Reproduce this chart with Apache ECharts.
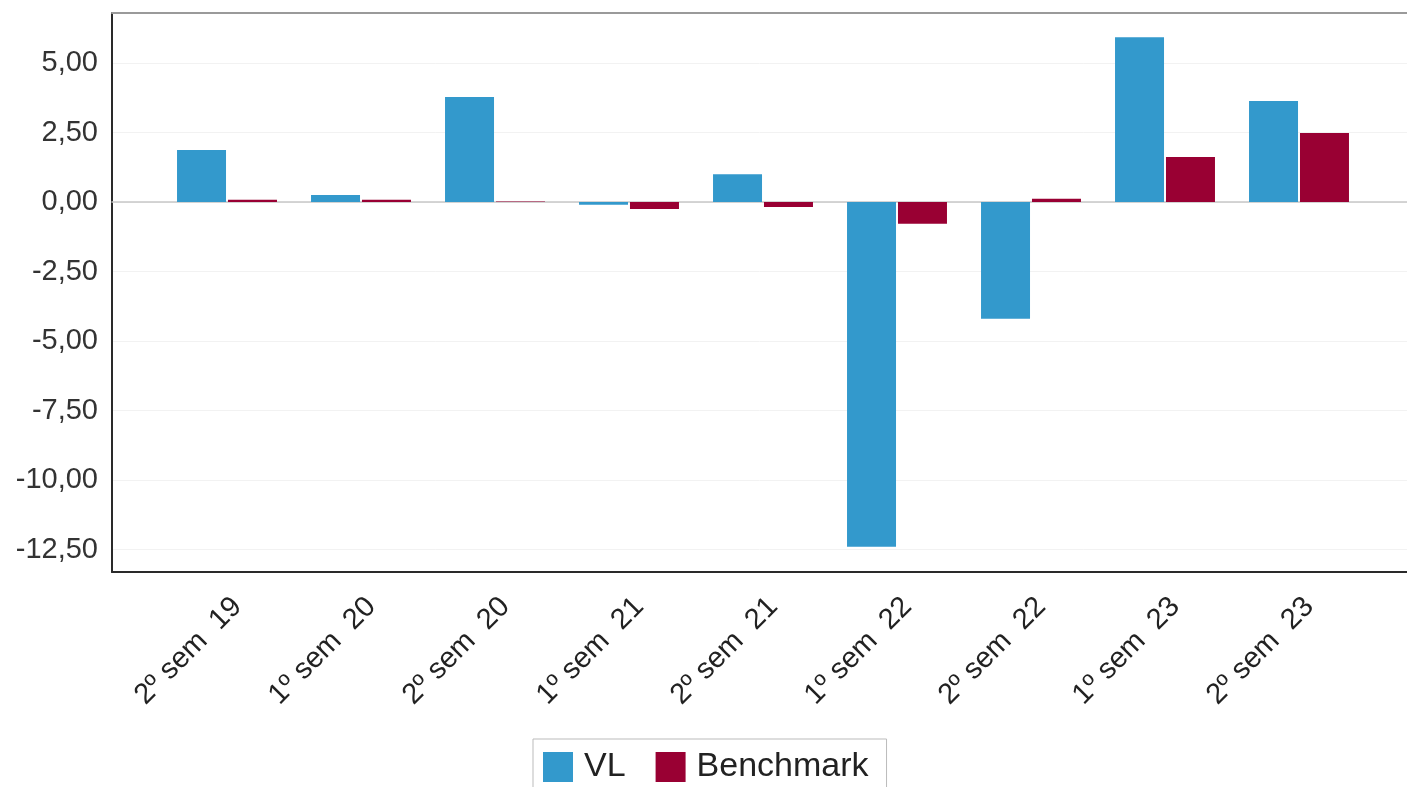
<!DOCTYPE html>
<html>
<head>
<meta charset="utf-8">
<script src="https://cdn.jsdelivr.net/npm/echarts@6/dist/echarts.min.js"></script>
<style>html,body{margin:0;padding:0;background:#fff;}#c{width:1407px;height:787px;}</style>
</head>
<body>
<div id="c"></div>
<script>
const categories = ['2º sem  19','1º sem  20','2º sem  20','1º sem  21','2º sem  21','1º sem  22','2º sem  22','1º sem  23','2º sem  23'];
const vlValues = [1.87, 0.25, 3.78, -0.10, 1.00, -12.40, -4.20, 5.93, 3.63];
const benchmarkValues = [0.08, 0.08, 0.02, -0.25, -0.18, -0.78, 0.12, 1.62, 2.48];
const yMin = -12.5, yMax = 5, yInterval = 2.5;

const fmt = v => v.toFixed(2).replace('.', ',');
const font = 'Liberation Sans, Arial, sans-serif';
const hidden = {axisLabel: {show: false}, axisTick: {show: false}, splitLine: {show: false}};
const chart = echarts.init(document.getElementById('c'), null, {renderer: 'canvas'});
chart.setOption({
  backgroundColor: '#fff',
  animation: false,
  grid: [
    {left: 112, top: 13, width: 1320, bottom: 215},
    {left: 112, top: 63, width: 1320, bottom: 237.5},
    {left: 160, top: 63, right: 41, bottom: 237.5}
  ],
  xAxis: [
    Object.assign({gridIndex: 0, type: 'value', min: 0, max: 1, position: 'bottom',
     axisLine: {show: true, onZero: false, lineStyle: {color: '#2a2a2a', width: 2}}}, hidden),
    Object.assign({gridIndex: 0, type: 'value', min: 0, max: 1, position: 'top',
     axisLine: {show: true, onZero: false, lineStyle: {color: '#9a9a9a', width: 2}}}, hidden),
    Object.assign({gridIndex: 1, type: 'value', min: 0, max: 1,
     axisLine: {show: true, onZero: true, lineStyle: {color: '#c8c8c8', width: 1.5}}}, hidden),
    {gridIndex: 2, type: 'category', data: categories, axisLine: {show: false, onZero: false}, axisTick: {show: false},
     position: 'bottom', offset: 22.5,
     axisLabel: {rotate: 45, margin: 20, fontSize: 29, color: '#222', fontFamily: font, interval: 0, verticalAlign: 'top'}}
  ],
  yAxis: [
    Object.assign({gridIndex: 0, type: 'value', min: 0, max: 1, position: 'left',
     axisLine: {show: true, onZero: false, lineStyle: {color: '#2a2a2a', width: 2}}}, hidden),
    {gridIndex: 1, type: 'value', min: yMin, max: yMax, interval: yInterval,
     axisLine: {show: false}, axisTick: {show: false},
     axisLabel: {formatter: fmt, fontSize: 29, color: '#333', fontFamily: font, margin: 14},
     splitLine: {show: true, lineStyle: {color: '#f2f2f2', width: 1}}},
    {gridIndex: 2, type: 'value', min: yMin, max: yMax, interval: yInterval, show: false, splitLine: {show: false}}
  ],
  legend: {
    left: 533, top: 739, orient: 'horizontal',
    borderColor: '#bbb', borderWidth: 1, padding: [11, 18, 12, 10],
    itemWidth: 30, itemHeight: 30, itemGap: 30, icon: 'rect',
    textStyle: {fontSize: 34, color: '#222', fontFamily: font, padding: [0, 0, 0, 6]},
    data: ['VL', 'Benchmark']
  },
  series: [
    {name: 'VL', type: 'bar', xAxisIndex: 3, yAxisIndex: 2, data: vlValues, barWidth: 49, barGap: '4%', clip: false, itemStyle: {color: '#3399cc'}},
    {name: 'Benchmark', type: 'bar', xAxisIndex: 3, yAxisIndex: 2, data: benchmarkValues, barWidth: 49, barGap: '4%', clip: false, itemStyle: {color: '#990033'}}
  ]
});
</script>
</body>
</html>
